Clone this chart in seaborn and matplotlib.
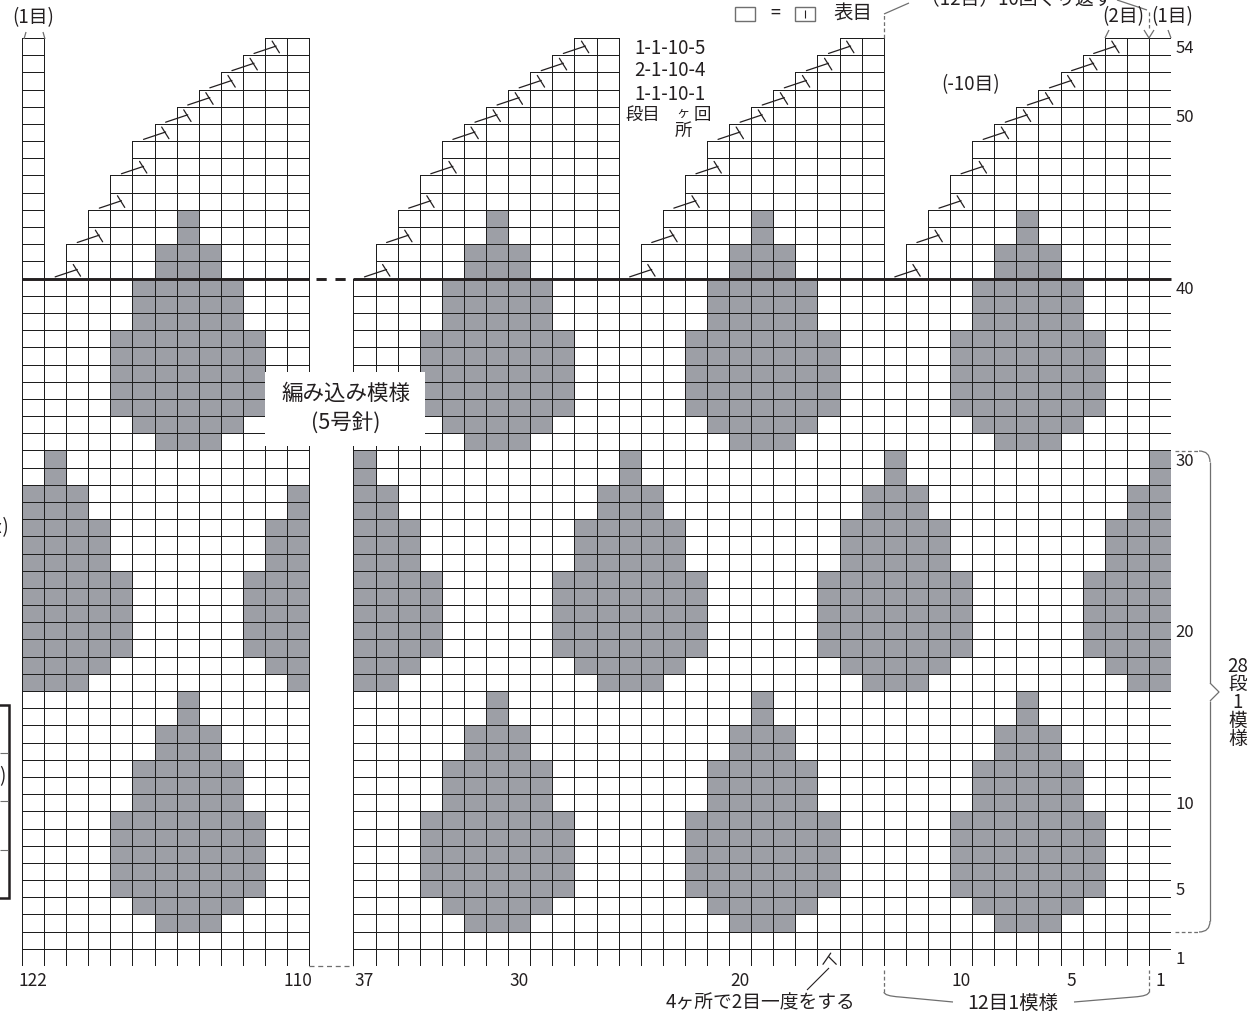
import numpy as np
import pandas as pd
import matplotlib
matplotlib.use("Agg")
import matplotlib.pyplot as plt
import seaborn as sns
from matplotlib.colors import ListedColormap, to_rgba
from matplotlib.path import Path
from matplotlib.patches import PathPatch, Rectangle

# ------------------------------------------------------------------ data
left_stitches = list(range(122, 109, -1))    # 122 .. 110 (left block)
right_stitches = list(range(37, 0, -1))      # 37 .. 1   (right block)
gap_cols = ["gap1", "gap2"]
rows = list(range(54, 0, -1))                # 54 (top) .. 1 (bottom)

# 12-stitch x 28-row repeat, rows 30 -> 3, stitch 12 (left) -> 1 (right)
repeat_rows = [
    "...........X",  # 30
    "...........X",  # 29
    "X.........XX",  # 28
    "X.........XX",  # 27
    "XX.......XXX",  # 26
    "XX.......XXX",  # 25
    "XX.......XXX",  # 24
    "XXX.....XXXX",  # 23
    "XXX.....XXXX",  # 22
    "XXX.....XXXX",  # 21
    "XXX.....XXXX",  # 20
    "XXX.....XXXX",  # 19
    "XX.......XXX",  # 18
    "X.........XX",  # 17
    ".....X......",  # 16
    ".....X......",  # 15
    "....XXX.....",  # 14
    "....XXX.....",  # 13
    "...XXXXX....",  # 12
    "...XXXXX....",  # 11
    "...XXXXX....",  # 10
    "..XXXXXXX...",  # 9
    "..XXXXXXX...",  # 8
    "..XXXXXXX...",  # 7
    "..XXXXXXX...",  # 6
    "..XXXXXXX...",  # 5
    "...XXXXX....",  # 4
    "....XXX.....",  # 3
]
repeat_top_row = 30
repeat_height = 28
pattern_rows = (3, 44)          # rows that carry the colour pattern

# shaping above row 40
step_stitches = [121, 37, 25, 13]                       # columns ending at row 40
wedge_tops = [42, 44, 46, 48, 49, 50, 51, 52, 53, 54]   # tops of the next 10 stitches
dec_rows = [41, 43, 45, 47, 49, 50, 51, 52, 53, 54]     # decrease rows
step_top = 40
full_top = 54

right_labels = [54, 50, 40, 30, 20, 10, 5, 1]
bottom_labels = [122, 110, 37, 30, 20, 10, 5, 1]
shaping_text = ["1-1-10-5", "2-1-10-4", "1-1-10-1"]

# ------------------------------------------------------------------ build matrix
col_labels = left_stitches + gap_cols + right_stitches
col_index = {c: i for i, c in enumerate(col_labels)}

top_of = {s: full_top for s in left_stitches + right_stitches}
for c in step_stitches:
    top_of[c] = step_top
    for k, t in enumerate(wedge_tops, start=1):
        top_of[c - k] = t


def cell_value(s, r):
    if r > top_of[s]:
        return np.nan
    if pattern_rows[0] <= r <= pattern_rows[1]:
        rr = (r - 3) % repeat_height + 3
        line = repeat_rows[repeat_top_row - rr]
        j = (s - 1) % 12 + 1
        return 1.0 if line[12 - j] == "X" else 0.0
    return 0.0


data = []
for r in rows:
    line = []
    for c in col_labels:
        line.append(np.nan if isinstance(c, str) else cell_value(c, r))
    data.append(line)
df = pd.DataFrame(data, index=rows, columns=[str(c) for c in col_labels])

# ------------------------------------------------------------------ style
sns.set_style("white")
plt.rcParams["font.family"] = ["Noto Sans CJK JP", "DejaVu Sans"]
INK = "#231f20"
GRAY_FILL = "#9d9fa6"
LINE = "#1e1e1e"
BR = "#6f6f6f"

W, H = 1256, 1016
fig = plt.figure(figsize=(W / 100, H / 100), dpi=100)
fig.patch.set_facecolor("white")

gx0, gx1, gy0, gy1 = 22, 1171, 38, 966
ax = fig.add_axes([gx0 / W, 1 - gy1 / H, (gx1 - gx0) / W, (gy1 - gy0) / H])
sns.heatmap(df, mask=df.isna(), cmap=ListedColormap(["white", GRAY_FILL]),
            vmin=0, vmax=1, cbar=False, linewidths=0.7, linecolor=LINE,
            xticklabels=False, yticklabels=False, ax=ax)
# hide edges of cells that are not part of the chart
mesh = ax.collections[0]
missing = df.isna().values.ravel()
edge_cols = np.tile(np.array(to_rgba(LINE)), (missing.size, 1))
edge_cols[missing, 3] = 0.0
mesh.set_edgecolor(edge_cols)

ax.set_xlim(0, len(col_labels))
ax.set_ylim(len(rows), 0)

# axis labels via ticks
ax.set_xticks([col_index[s] + 0.5 for s in bottom_labels])
ax.set_xticklabels([str(s) for s in bottom_labels], fontsize=12.5, color=INK, rotation=0)
ax.yaxis.tick_right()
ax.set_yticks([54 - r + 0.5 for r in right_labels])
ax.set_yticklabels([str(r) for r in right_labels], fontsize=12, color=INK, rotation=0)
ax.tick_params(axis="x", length=0, pad=4)
ax.tick_params(axis="y", length=0, pad=3)
for lab in ax.get_yticklabels():
    lab.set_horizontalalignment("left")

# thick line at top of row 40
yb = 54 - 40
gap_l, gap_r = col_index["gap1"], col_index["gap2"] + 1
ax.plot([0, gap_l], [yb, yb], color=INK, lw=2.1, solid_capstyle="butt", clip_on=False, zorder=5)
ax.plot([gap_r, len(col_labels)], [yb, yb], color=INK, lw=2.1, solid_capstyle="butt", clip_on=False, zorder=5)
ax.plot([gap_l + 0.3, gap_r - 0.1], [yb, yb], color=INK, lw=2.1, ls=(0, (3.5, 3)), clip_on=False, zorder=5)
ax.plot([gap_l, gap_r], [54, 54], color=BR, lw=0.9, ls=(0, (4, 3)), clip_on=False, zorder=5)

# decrease symbols
for c in step_stitches:
    for k, r in enumerate(dec_rows, start=1):
        x0 = col_index[c - k]
        ybot = 55 - r
        ax.plot([x0 - 0.5, x0 + 0.5], [ybot - 0.1, ybot - 0.53], color=INK, lw=0.9, clip_on=False, zorder=6)
        ax.plot([x0 + 0.32, x0 + 0.65], [ybot - 0.82, ybot - 0.14], color=INK, lw=0.9, clip_on=False, zorder=6)

# k2tog marker on row 1 (stitch 16)
x0 = col_index[16]
ax.plot([x0 + 0.25, x0 + 0.6], [54 - 0.1, 54 - 0.75], color=INK, lw=0.9, clip_on=False, zorder=6)
ax.plot([x0 + 0.5, x0 + 0.85], [54 - 0.55, 54 - 0.1], color=INK, lw=0.9, clip_on=False, zorder=6)

# ------------------------------------------------------------------ overlay annotations (pixel space)
ov = fig.add_axes([0, 0, 1, 1], zorder=10)
ov.set_xlim(0, W)
ov.set_ylim(H, 0)
ov.axis("off")
ov.patch.set_alpha(0)


def txt(x, y, s, size=13.5, ha="center", va="center", **kw):
    ov.text(x, y, s, fontsize=size, ha=ha, va=va, color=INK, **kw)


def line(xs, ys, color=BR, lw=0.9, ls="-"):
    ov.plot(xs, ys, color=color, lw=lw, ls=ls, solid_capstyle="butt")


def curve(pts, color=BR, lw=0.9):
    codes = [Path.MOVETO] + [Path.CURVE3] * (len(pts) - 1)
    ov.add_patch(PathPatch(Path(pts, codes), fc="none", ec=color, lw=lw))


# label box
ov.add_patch(Rectangle((265, 372), 160, 74, fc="white", ec="none", zorder=3))
txt(346, 394, "編み込み模様", size=15.5, zorder=4)
txt(346, 424, "(5号針)", size=15.5, zorder=4)

# shaping text
txt(670, 48, shaping_text[0], size=13.5)
txt(670, 71, shaping_text[1], size=13.5)
txt(670, 94, shaping_text[2], size=13.5)
txt(643, 115, "段目", size=12.5)
txt(683, 113, "ヶ", size=9.5)
txt(702, 115, "回", size=12.5)
txt(683, 131, "所", size=12.5)
txt(971, 85, "(-10目)", size=13.5)

# legend at top
ov.add_patch(Rectangle((735, 7), 20, 14, fc="white", ec=BR, lw=1.0))
txt(775, 14, "=", size=13)
ov.add_patch(Rectangle((795, 7), 20, 14, fc="white", ec=BR, lw=1.0))
line([805, 805], [10, 18], color=INK, lw=0.8)
txt(853, 13, "表目", size=14)

# top long bracket (text cut at the top edge)
line([884, 884], [38, 15], ls=(0, (3, 2)))
line([884, 909], [14, 3])
txt(1017, -1, "（12目）10回くり返す", size=13.5)
line([1117, 1147], [0, 10])
line([1149, 1149], [12, 28], ls=(0, (3, 2)))

# (2目)(1目) at top right
txt(1123, 17, "(2目)", size=13.5)
txt(1172, 17, "(1目)", size=13.5)
line([1105, 1109], [38, 30])
line([1144, 1149, 1154], [30, 38, 30])
line([1171, 1168], [38, 30])

# (1目) top left
txt(33, 18, "(1目)", size=13.5)
line([24, 26], [39, 32])
line([45, 43], [39, 32])

# right brace: 28段1模様
line([1175, 1199], [451, 451], ls=(0, (3, 2)))
curve([(1199, 451), (1210, 451), (1210, 462)])
line([1210, 1210], [462, 683])
line([1210, 1219, 1210], [683, 692, 701])
line([1210, 1210], [701, 921])
curve([(1210, 921), (1210, 932), (1199, 932)])
line([1175, 1199], [932, 932], ls=(0, (3, 2)))
txt(1238, 703, "28\n段\n1\n模\n様", size=13.5, linespacing=0.84)

# bottom bracket: 12目1模様
line([884, 884], [970, 992], ls=(0, (3, 2)))
curve([(884, 992), (884, 996), (900, 997)])
line([900, 953], [997, 1002])
txt(1013, 1003, "12目1模様", size=14)
line([1074, 1134], [1002, 997])
curve([(1134, 997), (1149, 996), (1149, 992)])
line([1149, 1149], [992, 970], ls=(0, (3, 2)))

# k2tog note
line([807, 829], [990, 968], color=INK, lw=0.8)
txt(761, 1003, "4ヶ所で2目一度をする", size=13.5)

# partial elements cut at the left edge
ov.add_patch(Rectangle((-60, 705), 69, 193, fc="none", ec=INK, lw=1.8))
for y in [753, 801, 850]:
    line([0, 8], [y, y], color=BR, lw=0.8)
txt(2, 777, ")", size=13.5)
txt(3, 528, "ː)", size=13.5)

fig.savefig("out.png", dpi=100)
